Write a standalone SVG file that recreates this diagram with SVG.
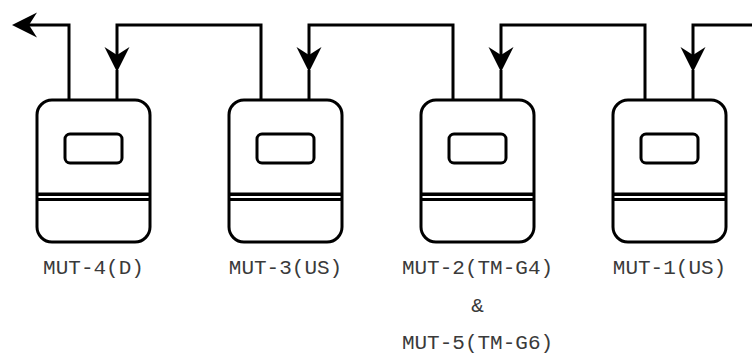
<svg xmlns="http://www.w3.org/2000/svg" width="752" height="354" viewBox="0 0 752 354">
  <style>
    .body{fill:#fff;stroke:#000;stroke-width:3}
    .screen{fill:#fff;stroke:#000;stroke-width:3}
    .band1{stroke:#000;stroke-width:3.5}
    .band2{stroke:#000;stroke-width:3}
    .conn{fill:none;stroke:#000;stroke-width:3;stroke-linejoin:miter}
    .lbl{font-family:"Courier New","Liberation Mono",monospace;font-size:21px;fill:#3a3a3a;text-anchor:middle}
  </style>
  <defs>
    <marker id="arr" markerUnits="userSpaceOnUse" markerWidth="30" markerHeight="30" viewBox="-27 -15 30 30" refX="-9" refY="0" orient="auto" overflow="visible">
      <path d="M0,0 L-25,-12.5 L-17,0 L-25,12.5 Z" fill="#000"/>
    </marker>
    <g id="meter">
      <rect class="body" x="0" y="0" width="113" height="142" rx="15" ry="15"/>
      <rect class="screen" x="28" y="34" width="57" height="29" rx="5" ry="5"/>
      <line class="band1" x1="0" y1="94.3" x2="113" y2="94.3"/>
      <line class="band2" x1="0" y1="99.5" x2="113" y2="99.5"/>
    </g>
  </defs>
  <g id="connectors">
    <path class="conn" d="M755,25 H693 V63" marker-end="url(#arr)"/>
    <path class="conn" d="M693,70 V100"/>
    <path class="conn" d="M645,100 V25 H501 V63" marker-end="url(#arr)"/>
    <path class="conn" d="M501,70 V100"/>
    <path class="conn" d="M453,100 V25 H309 V63" marker-end="url(#arr)"/>
    <path class="conn" d="M309,70 V100"/>
    <path class="conn" d="M261,100 V25 H117 V63" marker-end="url(#arr)"/>
    <path class="conn" d="M117,70 V100"/>
    <path class="conn" d="M69,100 V25 H21" marker-end="url(#arr)"/>
  </g>
  <g id="mut4">
    <use href="#meter" x="37" y="100"/>
    <text class="lbl" x="93.5" y="274">MUT-4(D)</text>
  </g>
  <g id="mut3">
    <use href="#meter" x="229" y="100"/>
    <text class="lbl" x="285.5" y="274">MUT-3(US)</text>
  </g>
  <g id="mut2">
    <use href="#meter" x="421" y="100"/>
    <text class="lbl" x="477.5" y="274">MUT-2(TM-G4)</text>
    <text class="lbl" x="477.5" y="312">&amp;</text>
    <text class="lbl" x="477.5" y="349">MUT-5(TM-G6)</text>
  </g>
  <g id="mut1">
    <use href="#meter" x="613" y="100"/>
    <text class="lbl" x="669.5" y="274">MUT-1(US)</text>
  </g>
</svg>
